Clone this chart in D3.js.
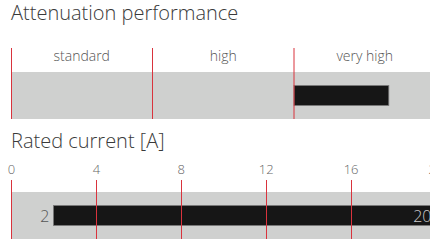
<!DOCTYPE html>
<html>
<head>
<meta charset="utf-8">
<script src="https://cdn.jsdelivr.net/npm/d3@7"></script>
<style>
  body { margin: 0; background: #fff; }
  svg { display: block; font-family: "Open Sans", "Noto Sans", sans-serif; font-weight: 300; }
</style>
</head>
<body>
<svg id="chart" width="430" height="248"></svg>
<script>
// Attenuation performance: categories and the bar's extent on a 0..3 category scale
const attenuationCategories = ['standard', 'high', 'very high'];
const attenuationRange = [2, 2.67];

// Rated current [A]
const currentTicks = [0, 4, 8, 12, 16, 20];
const currentDomain = [0, 20];
const currentRange = [2, 20];

const svg = d3.select('#chart');
const red = '#d9333d';
const left = 11;
const right = 435.5;

// -------- Attenuation performance --------
svg.append('text')
  .attr('x', left)
  .attr('y', 20)
  .attr('font-size', 20)
  .attr('fill', '#3a3a3a')
  .text('Attenuation performance');

const xCat = d3.scaleBand().domain(attenuationCategories).range([left, right]);
const xAtt = d3.scaleLinear().domain([0, attenuationCategories.length]).range([left, right]);

const top1 = svg.append('g');
top1.append('rect')
  .attr('x', left)
  .attr('y', 72)
  .attr('width', 430 - left)
  .attr('height', 47)
  .attr('fill', '#cfd0cf');

top1.selectAll('text.cat')
  .data(attenuationCategories)
  .join('text')
  .attr('class', 'cat')
  .attr('x', d => xCat(d) + xCat.bandwidth() / 2)
  .attr('y', 61)
  .attr('text-anchor', 'middle')
  .attr('font-size', 14)
  .attr('fill', '#555')
  .text(d => d);

top1.append('rect')
  .attr('x', xAtt(attenuationRange[0]))
  .attr('y', 85.5)
  .attr('width', xAtt(attenuationRange[1]) - xAtt(attenuationRange[0]))
  .attr('height', 20)
  .attr('fill', '#161616')
  .attr('stroke', '#7a7a7a')
  .attr('stroke-width', 0.8);

top1.selectAll('line.sep')
  .data(attenuationCategories)
  .join('line')
  .attr('class', 'sep')
  .attr('x1', (d, i) => i === 0 ? xCat(d) + 0.5 : xCat(d))
  .attr('x2', (d, i) => i === 0 ? xCat(d) + 0.5 : xCat(d))
  .attr('y1', 48)
  .attr('y2', 119)
  .attr('stroke', red)
  .attr('stroke-width', 1);

// -------- Rated current --------
svg.append('text')
  .attr('x', left)
  .attr('y', 148)
  .attr('font-size', 20)
  .attr('fill', '#3a3a3a')
  .text('Rated current [A]');

const xCur = d3.scaleLinear().domain(currentDomain).range([left, right]);

const bottom = svg.append('g');
bottom.append('rect')
  .attr('x', left)
  .attr('y', 192)
  .attr('width', 430 - left)
  .attr('height', 47)
  .attr('fill', '#cfd0cf');

bottom.append('rect')
  .attr('x', xCur(currentRange[0]))
  .attr('y', 205.5)
  .attr('width', xCur(currentRange[1]) - xCur(currentRange[0]))
  .attr('height', 20)
  .attr('fill', '#161616')
  .attr('stroke', '#7a7a7a')
  .attr('stroke-width', 0.8);

bottom.selectAll('line.tick')
  .data(currentTicks)
  .join('line')
  .attr('class', 'tick')
  .attr('x1', d => Math.round(xCur(d)) + 0.5)
  .attr('x2', d => Math.round(xCur(d)) + 0.5)
  .attr('y1', 180)
  .attr('y2', 239)
  .attr('stroke', red)
  .attr('stroke-width', 1);

bottom.selectAll('text.tick')
  .data(currentTicks)
  .join('text')
  .attr('class', 'tick')
  .attr('x', d => xCur(d) + 0.5)
  .attr('y', 174)
  .attr('text-anchor', 'middle')
  .attr('font-size', 13)
  .attr('fill', '#666')
  .text(d => d);

bottom.append('text')
  .attr('x', xCur(currentRange[0]) - 4)
  .attr('y', 221.5)
  .attr('text-anchor', 'end')
  .attr('font-size', 16)
  .attr('fill', '#555')
  .text(currentRange[0]);

bottom.append('text')
  .attr('x', xCur(currentRange[1]) - 4)
  .attr('y', 221.5)
  .attr('text-anchor', 'end')
  .attr('font-size', 16)
  .attr('fill', '#ccc')
  .text(currentRange[1]);
</script>
</body>
</html>
